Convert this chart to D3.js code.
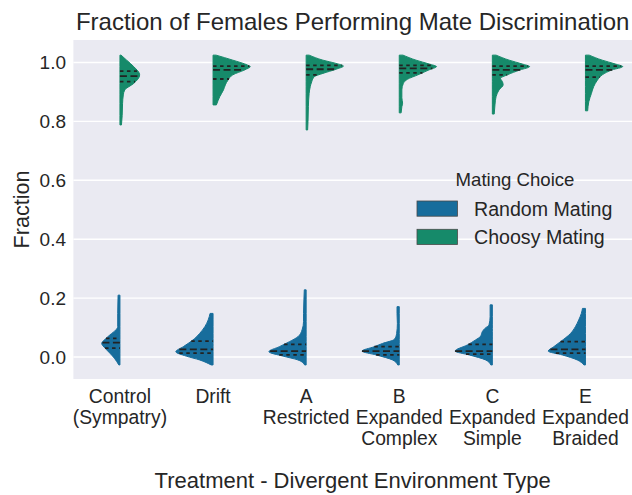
<!DOCTYPE html>
<html>
<head>
<meta charset="utf-8">
<script src="https://cdn.jsdelivr.net/npm/d3@7"></script>
<style>
  html, body { margin: 0; padding: 0; background: #ffffff; }
  svg { display: block; }
  text { font-family: "Liberation Sans", Arial, sans-serif; fill: #262626; }
</style>
</head>
<body>
<svg id="chart" width="632" height="495"></svg>
<script>
// ---------------- DATA ----------------
const categories = [
  ["Control", "(Sympatry)"],
  ["Drift"],
  ["A", "Restricted"],
  ["B", "Expanded", "Complex"],
  ["C", "Expanded", "Simple"],
  ["E", "Expanded", "Braided"]
];
const hueLevels = ["Random Mating", "Choosy Mating"];
const yTicks = [0.0, 0.2, 0.4, 0.6, 0.8, 1.0];

// density profiles: [fraction value, relative density (1 = widest violin)]
const randomProfiles = [
  [[0.210,0.05],[0.148,0.06],[0.103,0.06],[0.092,0.11],[0.075,0.27],[0.060,0.40],[0.046,0.49],[0.030,0.40],[0.013,0.27],[-0.004,0.15],[-0.027,0.03]],
  [[0.148,0.08],[0.126,0.13],[0.103,0.22],[0.080,0.36],[0.063,0.49],[0.046,0.67],[0.035,0.80],[0.018,1.00],[0.003,0.72],[-0.010,0.36],[-0.027,0.05]],
  [[0.228,0.05],[0.194,0.06],[0.148,0.07],[0.120,0.07],[0.092,0.11],[0.069,0.22],[0.052,0.45],[0.035,0.72],[0.018,1.00],[0.003,0.62],[-0.010,0.22],[-0.027,0.04]],
  [[0.171,0.06],[0.148,0.06],[0.114,0.05],[0.080,0.07],[0.060,0.13],[0.046,0.45],[0.035,0.67],[0.020,1.00],[0.007,0.62],[-0.010,0.18],[-0.027,0.04]],
  [[0.177,0.06],[0.137,0.06],[0.109,0.09],[0.097,0.20],[0.086,0.27],[0.071,0.31],[0.058,0.45],[0.041,0.67],[0.020,1.00],[0.007,0.62],[-0.010,0.18],[-0.027,0.04]],
  [[0.165,0.08],[0.148,0.11],[0.126,0.18],[0.103,0.27],[0.080,0.40],[0.052,0.67],[0.035,0.85],[0.020,1.00],[0.007,0.62],[-0.010,0.22],[-0.027,0.04]]
];
const choosyProfiles = [
  [[1.025,0.03],[1.008,0.18],[0.986,0.37],[0.958,0.53],[0.929,0.37],[0.907,0.13],[0.890,0.09],[0.860,0.07],[0.820,0.06],[0.788,0.04]],
  [[1.025,0.08],[1.008,0.53],[0.991,0.93],[0.986,1.00],[0.975,0.85],[0.958,0.53],[0.940,0.40],[0.924,0.33],[0.907,0.28],[0.884,0.18],[0.856,0.09]],
  [[1.025,0.08],[1.008,0.45],[0.997,0.80],[0.988,1.00],[0.977,0.80],[0.963,0.45],[0.952,0.22],[0.935,0.15],[0.918,0.11],[0.895,0.08],[0.850,0.06],[0.800,0.05],[0.771,0.04]],
  [[1.025,0.10],[1.008,0.45],[0.995,0.80],[0.986,1.00],[0.975,0.80],[0.958,0.50],[0.943,0.22],[0.929,0.11],[0.907,0.07],[0.880,0.07],[0.862,0.09],[0.850,0.07],[0.829,0.05]],
  [[1.025,0.10],[1.008,0.45],[0.995,0.80],[0.986,1.00],[0.975,0.75],[0.958,0.40],[0.946,0.22],[0.935,0.27],[0.924,0.29],[0.907,0.18],[0.884,0.10],[0.856,0.07],[0.825,0.05]],
  [[1.025,0.10],[1.008,0.45],[0.995,0.80],[0.986,1.00],[0.975,0.72],[0.958,0.45],[0.940,0.32],[0.918,0.22],[0.895,0.16],[0.867,0.09],[0.836,0.06]]
];
// quartiles [q1, median, q3]
const randomQuartiles = [
  [0.030,0.049,0.063],[0.013,0.026,0.054],[0.007,0.020,0.043],
  [0.007,0.020,0.035],[0.010,0.020,0.043],[0.013,0.026,0.052]
];
const choosyQuartiles = [
  [0.935,0.954,0.971],[0.944,0.975,0.988],[0.958,0.977,0.990],
  [0.965,0.980,0.990],[0.958,0.975,0.988],[0.950,0.975,0.988]
];

// ---------------- LAYOUT ----------------
const W = 632, H = 495;
const margin = {left: 73.4, right: 0, top: 40, bottom: 116};
const colors = ["#176d9c", "#168a6a"];
const svg = d3.select("#chart");

const x = d3.scaleBand().domain(d3.range(categories.length))
  .range([margin.left, W - margin.right]).padding(0);
const y = d3.scaleLinear().domain([-0.0747, 1.0764])
  .range([H - margin.bottom, margin.top]);
const halfW = d3.scaleLinear().domain([0, 1]).range([0, x.bandwidth() * 0.4]);

// background
svg.append("rect")
  .attr("x", margin.left).attr("y", margin.top)
  .attr("width", W - margin.right - margin.left)
  .attr("height", H - margin.bottom - margin.top)
  .attr("fill", "#EAEAF2");

// gridlines
const yAxis = d3.axisLeft(y).tickValues(yTicks).tickFormat(d3.format(".1f"))
  .tickSize(0).tickPadding(7.4);
svg.append("g").selectAll("line").data(yTicks).join("line")
  .attr("x1", margin.left).attr("x2", W - margin.right)
  .attr("y1", d => y(d)).attr("y2", d => y(d))
  .attr("stroke", "#ffffff").attr("stroke-width", 1.4);

const gy = svg.append("g").attr("transform", `translate(${margin.left},0)`).call(yAxis);
gy.select(".domain").remove();
gy.selectAll("text").attr("font-size", 19).attr("fill", "#262626")
  .attr("font-family", "'Liberation Sans', Arial, sans-serif");

// interpolate density at a value
function densityAt(profile, v) {
  for (let i = 0; i < profile.length - 1; i++) {
    const a = profile[i], b = profile[i + 1];
    if (v <= a[0] && v >= b[0]) {
      const t = (a[0] - v) / (a[0] - b[0]);
      return a[1] + t * (b[1] - a[1]);
    }
  }
  return 0;
}

const gV = svg.append("g");
[randomProfiles, choosyProfiles].forEach((profiles, h) => {
  const sign = h === 0 ? -1 : 1;
  const quarts = h === 0 ? randomQuartiles : choosyQuartiles;
  profiles.forEach((prof, i) => {
    const cx = x(i) + x.bandwidth() / 2;
    const area = d3.area()
      .curve(d3.curveMonotoneY)
      .y(d => y(d[0]))
      .x0(cx)
      .x1(d => cx + sign * halfW(d[1]));
    gV.append("path").datum(prof)
      .attr("d", area)
      .attr("fill", colors[h])
      .attr("stroke", colors[h])
      .attr("stroke-width", 1);
    quarts[i].forEach((q, k) => {
      const w = halfW(densityAt(prof, q));
      const xa = sign < 0 ? cx - w : cx;
      const xb = sign < 0 ? cx : cx + w;
      gV.append("line")
        .attr("x1", xa).attr("x2", xb)
        .attr("y1", y(q)).attr("y2", y(q))
        .attr("stroke", "#222222")
        .attr("stroke-width", 1.8)
        .attr("stroke-dasharray", k === 1 ? "7,3.5" : "3.5,3.5");
    });
  });
});

// x tick labels
const gx = svg.append("g");
categories.forEach((lines, i) => {
  const cx = x(i) + x.bandwidth() / 2;
  const t = gx.append("text").attr("text-anchor", "middle").attr("font-size", 19.3);
  lines.forEach((ln, j) => {
    t.append("tspan").attr("x", cx).attr("y", 403 + j * 20.8).text(ln);
  });
});

// axis labels
svg.append("text")
  .attr("x", (margin.left + W - margin.right) / 2).attr("y", 488)
  .attr("text-anchor", "middle").attr("font-size", 22)
  .text("Treatment - Divergent Environment Type");
svg.append("text")
  .attr("transform", `translate(28.5,${(margin.top + H - margin.bottom) / 2}) rotate(-90)`)
  .attr("text-anchor", "middle").attr("font-size", 21.6)
  .text("Fraction");

// title
svg.append("text")
  .attr("x", (margin.left + W - margin.right) / 2).attr("y", 30)
  .attr("text-anchor", "middle").attr("font-size", 24)
  .text("Fraction of Females Performing Mate Discrimination");

// legend
const lg = svg.append("g");
lg.append("text").attr("x", 515).attr("y", 186).attr("text-anchor", "middle")
  .attr("font-size", 18.6).text("Mating Choice");
hueLevels.forEach((lab, h) => {
  const yy = 201 + h * 28.3;
  lg.append("rect").attr("x", 417).attr("y", yy).attr("width", 40.5).attr("height", 15.2)
    .attr("fill", colors[h]).attr("stroke", "#4a4a4a").attr("stroke-width", 0.8);
  lg.append("text").attr("x", 474).attr("y", yy + 14.6).attr("font-size", 19.6).text(lab);
});
</script>
</body>
</html>
